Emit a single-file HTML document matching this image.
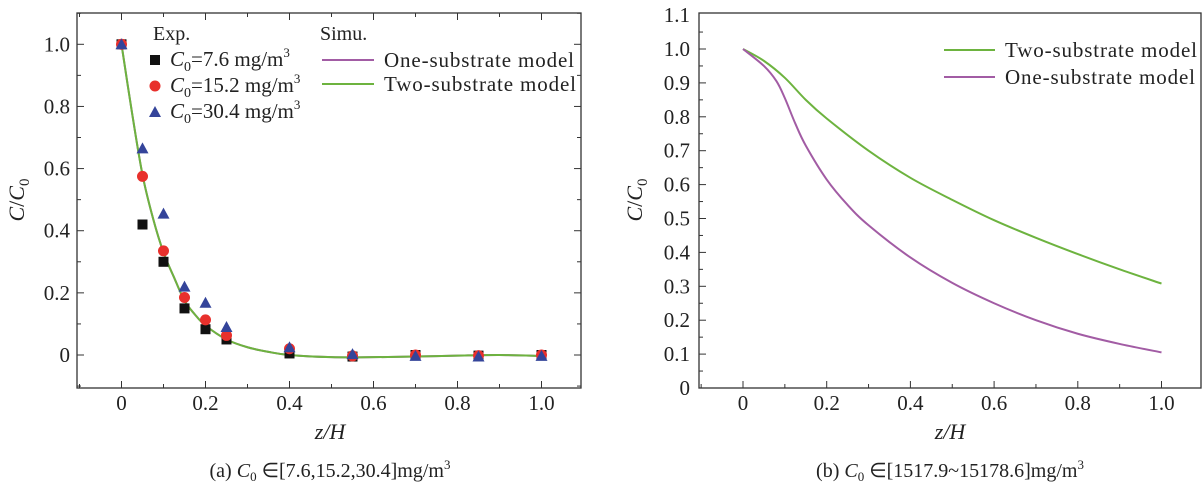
<!DOCTYPE html>
<html><head><meta charset="utf-8"><style>
html,body{margin:0;padding:0;background:#fff;}
svg{display:block;font-family:"Liberation Serif",serif;}
</style></head><body>
<svg id="svg" width="1202" height="491" viewBox="0 0 1202 491" xmlns="http://www.w3.org/2000/svg"></svg>
<script>
// ---- Panel (a) data ----
const expX = [0,0.05,0.1,0.15,0.2,0.25,0.4,0.55,0.7,0.85,1.0];
const expC76 = [1,0.42,0.30,0.15,0.083,0.05,0.005,-0.005,0,-0.002,0];
const expC152 = [1,0.575,0.335,0.185,0.113,0.063,0.02,-0.003,0,-0.002,0];
const expC304 = [1,0.665,0.455,0.22,0.168,0.09,0.025,0.003,-0.003,-0.005,-0.003];
const simAX = [0,0.025,0.05,0.075,0.1,0.125,0.15,0.175,0.2,0.25,0.3,0.35,0.4,0.5,0.6,0.7,0.8,0.9,1.0];
const simAOne = [1,0.78,0.58,0.44,0.33,0.25,0.175,0.13,0.095,0.05,0.025,0.01,0.0,-0.007,-0.007,-0.005,-0.002,0,-0.003];
const simATwo = [1,0.78,0.58,0.44,0.33,0.25,0.175,0.13,0.095,0.05,0.025,0.01,0.0,-0.007,-0.007,-0.005,-0.002,0,-0.003];
const xTicksA = ["0","0.2","0.4","0.6","0.8","1.0"];
const yTicksA = ["0","0.2","0.4","0.6","0.8","1.0"];
// ---- Panel (b) data ----
const simBTwoX = [0,0.05,0.1,0.15,0.2,0.3,0.4,0.5,0.6,0.7,0.8,0.9,1.0];
const simBTwo = [1,0.965,0.915,0.85,0.795,0.70,0.62,0.555,0.495,0.443,0.395,0.35,0.308];
const simBOneX = [0,0.05,0.08,0.1,0.125,0.15,0.2,0.25,0.3,0.4,0.5,0.6,0.7,0.8,0.9,1.0];
const simBOne = [1,0.95,0.905,0.855,0.78,0.715,0.615,0.54,0.48,0.385,0.31,0.25,0.2,0.16,0.13,0.105];
const xTicksB = ["0","0.2","0.4","0.6","0.8","1.0"];
const yTicksB = ["0","0.1","0.2","0.3","0.4","0.5","0.6","0.7","0.8","0.9","1.0","1.1"];

const NS="http://www.w3.org/2000/svg";
const svg=document.getElementById('svg');
function mk(tag,attrs,parent,txt){const e=document.createElementNS(NS,tag);for(const k in attrs)e.setAttribute(k,attrs[k]);if(txt!==undefined)e.textContent=txt;(parent||svg).appendChild(e);return e;}
function path(xs,ys,sx,sy){const p=xs.map((x,i)=>[sx(x),sy(ys[i])]);let d=`M${p[0][0]},${p[0][1]}`;for(let i=0;i<p.length-1;i++){const p0=p[Math.max(0,i-1)],p1=p[i],p2=p[i+1],p3=p[Math.min(p.length-1,i+2)];const c1x=p1[0]+(p2[0]-p0[0])/6,c1y=p1[1]+(p2[1]-p0[1])/6,c2x=p2[0]-(p3[0]-p1[0])/6,c2y=p2[1]-(p3[1]-p1[1])/6;d+=` C${c1x},${c1y} ${c2x},${c2y} ${p2[0]},${p2[1]}`;}return d;}
const GREEN="#6db33f",PURPLE="#a25ca4";

// ===== Panel A =====
const A={l:77,r:581,t:13,b:388};
const sxA=v=>121.5+v*420, syA=v=>355-v*310.7;
const gA=mk('g',{});


mk('rect',{x:A.l,y:A.t,width:A.r-A.l,height:A.b-A.t,fill:'none',stroke:'#333','stroke-width':1.3},gA);
for(let i=-1;i<=11;i++){const x=sxA(i/10);if(x<=A.l||x>=A.r)continue;const L=i%2===0?7:4;mk('line',{x1:x,y1:A.b,x2:x,y2:A.b-L,stroke:'#333'},gA);mk('line',{x1:x,y1:A.t,x2:x,y2:A.t+L,stroke:'#333'},gA);}
for(let i=-1;i<=11;i++){const y=syA(i/10);if(y>=A.b||y<=A.t)continue;const L=i%2===0?7:4;mk('line',{x1:A.l,y1:y,x2:A.l+L,y2:y,stroke:'#333'},gA);mk('line',{x1:A.r,y1:y,x2:A.r-L,y2:y,stroke:'#333'},gA);}
xTicksA.forEach(t=>{const e=mk('text',{x:sxA(parseFloat(t)),y:410,'font-size':21,'text-anchor':'middle',fill:'#222'},gA,t);

});
yTicksA.forEach(t=>{const e=mk('text',{x:70,y:syA(parseFloat(t))+7,'font-size':21,'text-anchor':'end',fill:'#222'},gA,t);

});
const ttA=mk('text',{x:330,y:439,'font-size':22,'font-style':'italic','text-anchor':'middle',fill:'#222'},gA,'z/H');


const ytA=mk('text',{transform:'translate(24,200) rotate(-90)','font-size':22,'text-anchor':'middle',fill:'#222'},gA);


ytA.innerHTML='<tspan font-style="italic">C</tspan>/<tspan font-style="italic">C</tspan><tspan font-size="15" dy="5">0</tspan>';
const cA=mk('text',{x:330,y:477,'font-size':20,'text-anchor':'middle',fill:'#222'},gA);


cA.innerHTML='(a) <tspan font-style="italic">C</tspan><tspan font-size="13" dy="4">0</tspan><tspan dy="-4"> ∈[7.6,15.2,30.4]mg/m</tspan><tspan font-size="13" dy="-8">3</tspan>';
const lOneA=mk('path',{d:path(simAX,simAOne,sxA,syA),fill:'none',stroke:PURPLE,'stroke-width':2},gA);


const lTwoA=mk('path',{d:path(simAX,simATwo,sxA,syA),fill:'none',stroke:GREEN,'stroke-width':2},gA);


function sq(x,y,p){return mk('rect',{x:x-5,y:y-5,width:10,height:10,fill:'#111'},p);}
function ci(x,y,p){return mk('circle',{cx:x,cy:y,r:5.5,fill:'#e8302c'},p);}
function tr(x,y,p){return mk('path',{d:`M${x},${y-6} L${x+6},${y+5} L${x-6},${y+5}Z`,fill:'#34449a'},p);}
expX.forEach((x,i)=>{const e=sq(sxA(x),syA(expC76[i]),gA);

});
expX.forEach((x,i)=>{const e=ci(sxA(x),syA(expC152[i]),gA);

});
expX.forEach((x,i)=>{const e=tr(sxA(x),syA(expC304[i]),gA);

});
// legend A
const legA=mk('g',{},gA);


mk('text',{x:153,y:40,'font-size':20,fill:'#222'},legA,'Exp.');
mk('text',{x:320,y:40,'font-size':20,fill:'#222'},legA,'Simu.');
sq(155,60,legA);ci(155,86,legA);tr(155,112,legA);
[['7.6',66],['15.2',92],['30.4',118]].forEach(([v,y])=>{const e=mk('text',{x:170,y:y,'font-size':21,fill:'#222'},legA);e.innerHTML='<tspan font-style="italic">C</tspan><tspan font-size="14" dy="5">0</tspan><tspan dy="-5">='+v+' mg/m</tspan><tspan font-size="13" dy="-9">3</tspan>';});
mk('line',{x1:322,y1:60,x2:374,y2:60,stroke:PURPLE,'stroke-width':2},legA);
mk('line',{x1:322,y1:84,x2:374,y2:84,stroke:GREEN,'stroke-width':2},legA);
mk('text',{x:384,y:67,'font-size':21,fill:'#222',textLength:190},legA,'One-substrate model');
mk('text',{x:384,y:91,'font-size':21,fill:'#222',textLength:192},legA,'Two-substrate model');

// ===== Panel B =====
const B={l:699,r:1201,t:13,b:388};
const sxB=v=>743+v*418.5, syB=v=>388-v*339;
const gB=mk('g',{});


mk('rect',{x:B.l,y:B.t,width:B.r-B.l,height:B.b-B.t,fill:'none',stroke:'#333','stroke-width':1.3},gB);
for(let i=-1;i<=11;i++){const x=sxB(i/10);if(x<=B.l||x>=B.r)continue;const L=i%2===0?7:4;mk('line',{x1:x,y1:B.b,x2:x,y2:B.b-L,stroke:'#333'},gB);}
for(let i=1;i<22;i++){const y=syB(i/20);const L=i%2===0?7:4;mk('line',{x1:B.l,y1:y,x2:B.l+L,y2:y,stroke:'#333'},gB);}
xTicksB.forEach(t=>{const e=mk('text',{x:sxB(parseFloat(t)),y:410,'font-size':21,'text-anchor':'middle',fill:'#222'},gB,t);

});
yTicksB.forEach(t=>{const e=mk('text',{x:690,y:syB(parseFloat(t))+7,'font-size':21,'text-anchor':'end',fill:'#222'},gB,t);

});
const ttB=mk('text',{x:950,y:439,'font-size':22,'font-style':'italic','text-anchor':'middle',fill:'#222'},gB,'z/H');


const ytB=mk('text',{transform:'translate(642,200) rotate(-90)','font-size':22,'text-anchor':'middle',fill:'#222'},gB);


ytB.innerHTML='<tspan font-style="italic">C</tspan>/<tspan font-style="italic">C</tspan><tspan font-size="15" dy="5">0</tspan>';
const cB=mk('text',{x:950,y:477,'font-size':20,'text-anchor':'middle',fill:'#222'},gB);


cB.innerHTML='(b) <tspan font-style="italic">C</tspan><tspan font-size="13" dy="4">0</tspan><tspan dy="-4"> ∈[1517.9~15178.6]mg/m</tspan><tspan font-size="13" dy="-8">3</tspan>';
const lTwoB=mk('path',{d:path(simBTwoX,simBTwo,sxB,syB),fill:'none',stroke:GREEN,'stroke-width':2},gB);


const lOneB=mk('path',{d:path(simBOneX,simBOne,sxB,syB),fill:'none',stroke:PURPLE,'stroke-width':2},gB);


const legB=mk('g',{},gB);


mk('line',{x1:944,y1:50,x2:995,y2:50,stroke:GREEN,'stroke-width':2},legB);
mk('line',{x1:944,y1:77,x2:995,y2:77,stroke:PURPLE,'stroke-width':2},legB);
mk('text',{x:1005,y:57,'font-size':21,fill:'#222',textLength:192},legB,'Two-substrate model');
mk('text',{x:1005,y:84,'font-size':21,fill:'#222',textLength:190},legB,'One-substrate model');
</script>
</body></html>
